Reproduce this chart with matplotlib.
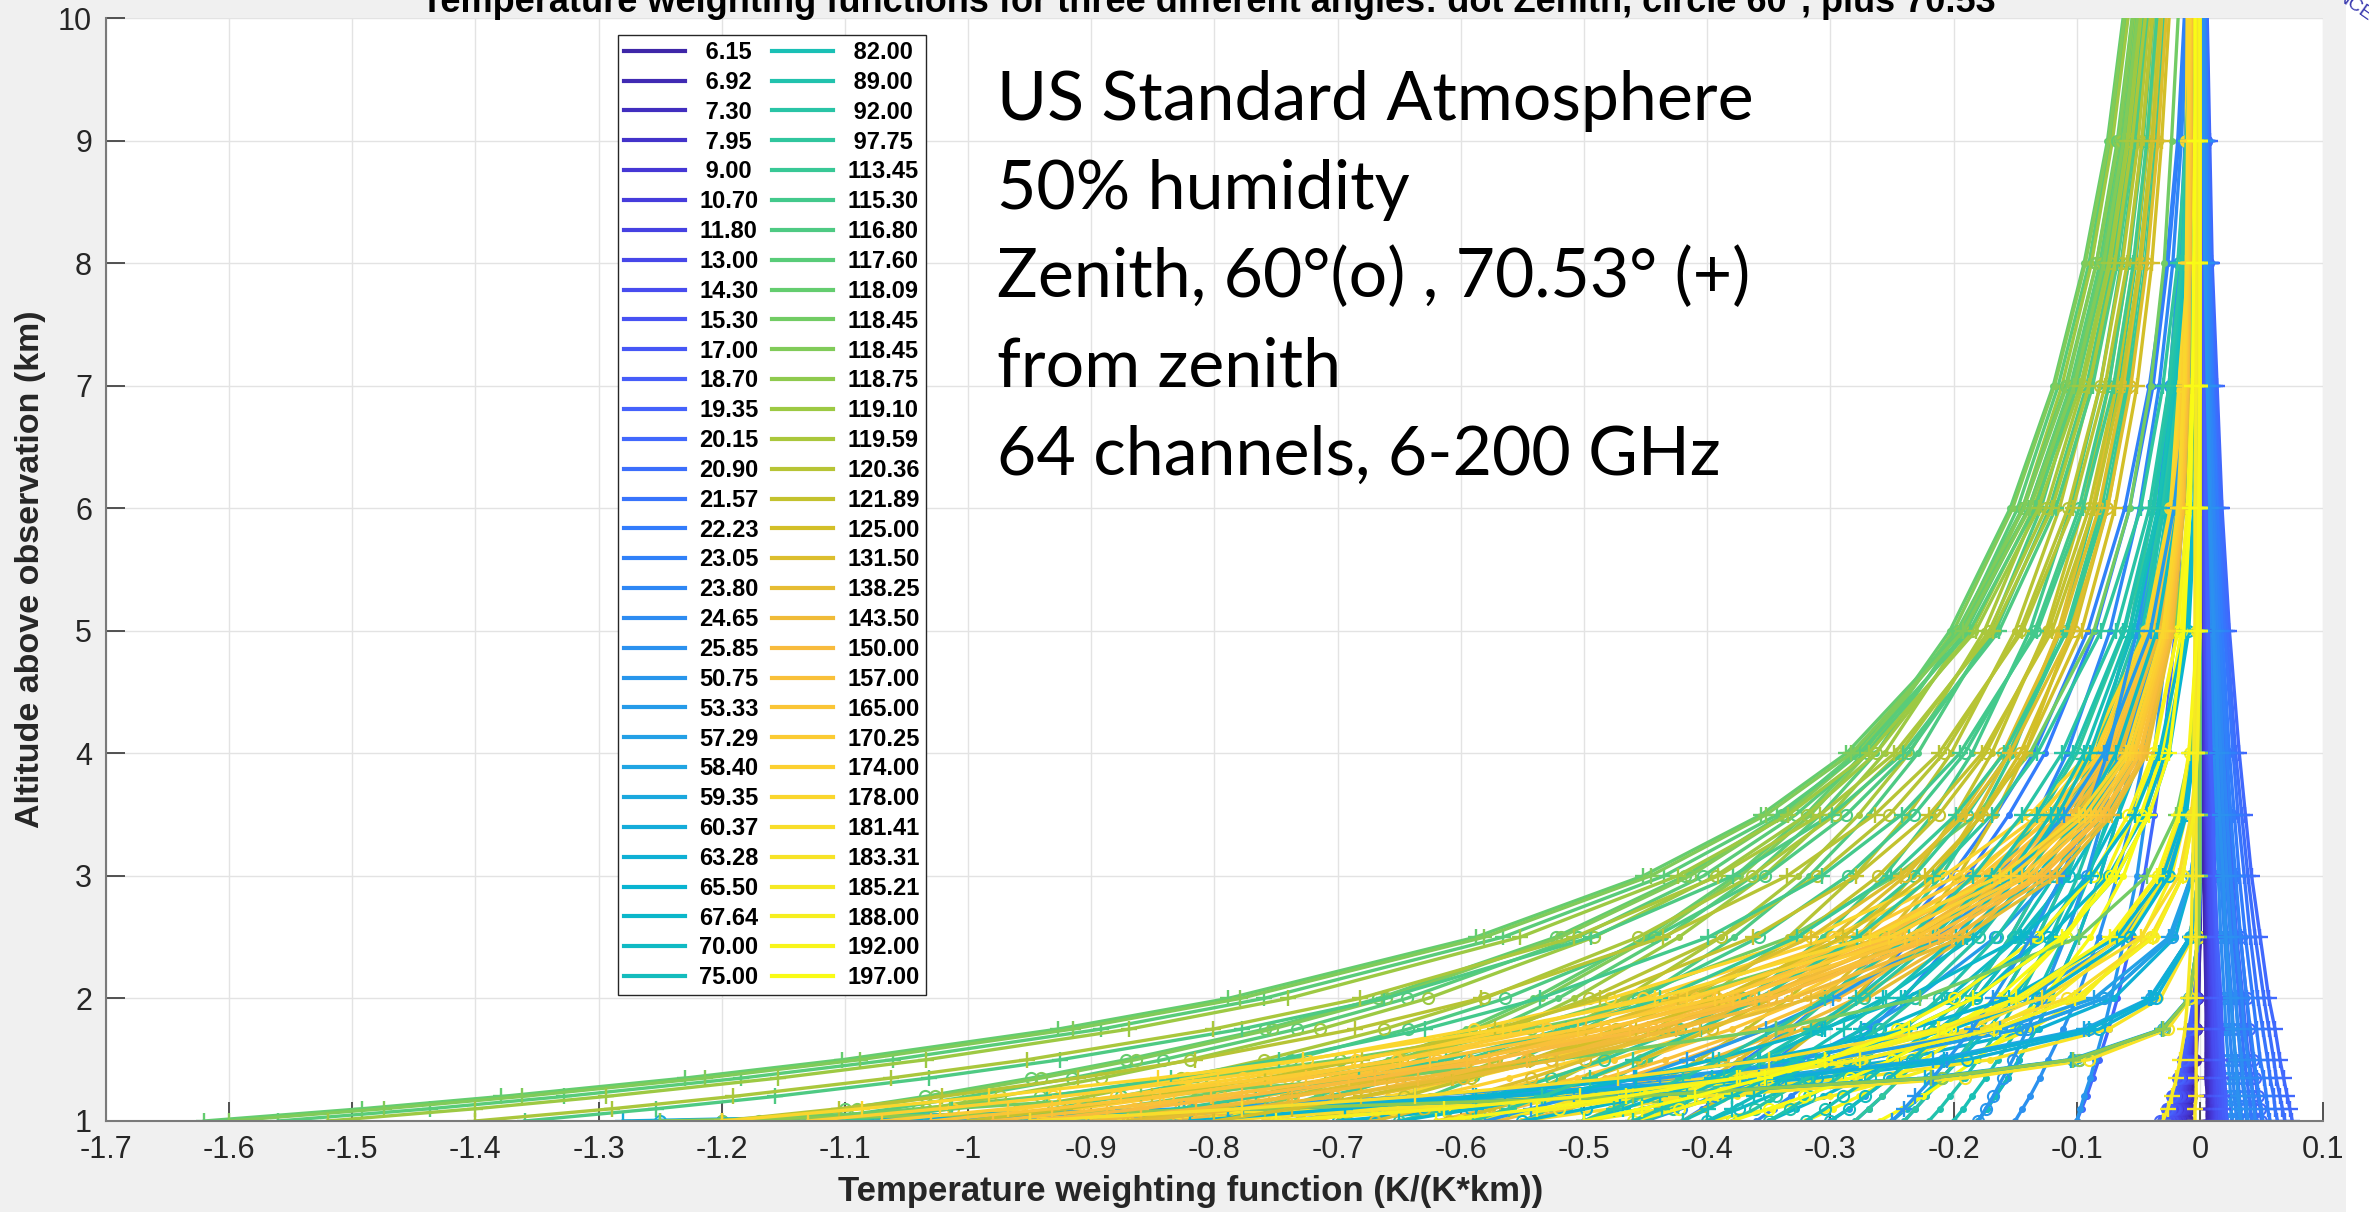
#!/usr/bin/env python3
import matplotlib
matplotlib.use("Agg")
import matplotlib.pyplot as plt
from matplotlib.colors import LinearSegmentedColormap
from matplotlib.lines import Line2D
from matplotlib.patches import Rectangle
from matplotlib.font_manager import FontProperties

# channel frequencies (GHz), legend order
freq_ghz = [6.15, 6.92, 7.30, 7.95, 9.00, 10.70, 11.80, 13.00, 14.30, 15.30, 17.00,
            18.70, 19.35, 20.15, 20.90, 21.57, 22.23, 23.05, 23.80, 24.65, 25.85,
            50.75, 53.33, 57.29, 58.40, 59.35, 60.37, 63.28, 65.50, 67.64, 70.00, 75.00,
            82.00, 89.00, 92.00, 97.75, 113.45, 115.30, 116.80, 117.60, 118.09, 118.45,
            118.45, 118.75, 119.10, 119.59, 120.36, 121.89, 125.00, 131.50, 138.25,
            143.50, 150.00, 157.00, 165.00, 170.25, 174.00, 178.00, 181.41, 183.31,
            185.21, 188.00, 192.00, 197.00]

# altitude levels (km) where the curves were read
altitude_km = [1, 1.1, 1.2, 1.35, 1.5, 1.75, 2, 2.5, 3, 3.5, 4, 5, 6, 7, 8, 9, 10.5]

# temperature weighting function K/(K*km) per channel -- zenith view (dots)
wf_zenith = [
    [-.008, -.007, -.006, -.004, -.003, -.002, -.001, 0, 0, 0, 0, 0, 0, 0, 0, 0, 0],
    [-.009, -.008, -.006, -.005, -.004, -.002, -.001, 0, 0, 0, 0, 0, 0, 0, 0, 0, 0],
    [-.01, -.009, -.007, -.006, -.004, -.003, -.002, 0, 0, 0, .001, .001, 0, 0, 0, 0, 0],
    [-.011, -.009, -.008, -.006, -.005, -.003, -.002, 0, 0, 0, .001, .001, 0, 0, 0, 0, 0],
    [-.012, -.01, -.009, -.007, -.005, -.003, -.002, 0, 0, 0, .001, .001, 0, 0, 0, 0, 0],
    [-.014, -.012, -.01, -.008, -.006, -.004, -.002, -.001, 0, .001, .001, .001, .001, 0, 0, 0, 0],
    [-.015, -.013, -.011, -.008, -.006, -.004, -.002, -.001, 0, .001, .001, .001, .001, 0, 0, 0, 0],
    [-.017, -.014, -.012, -.01, -.007, -.005, -.003, -.001, 0, .001, .001, .001, .001, .001, 0, 0, 0],
    [-.018, -.015, -.013, -.01, -.008, -.005, -.003, -.001, 0, .001, .001, .001, .001, .001, 0, 0, 0],
    [-.02, -.017, -.014, -.011, -.009, -.005, -.003, -.001, 0, .001, .001, .001, .001, .001, 0, 0, 0],
    [-.022, -.019, -.016, -.012, -.009, -.006, -.004, -.001, 0, .001, .001, .001, .001, .001, 0, 0, 0],
    [-.024, -.02, -.017, -.013, -.01, -.006, -.004, -.001, 0, .001, .001, .001, .001, .001, 0, 0, 0],
    [-.026, -.022, -.019, -.015, -.011, -.007, -.004, -.001, .001, .001, .001, .001, .001, .001, .001, 0, 0],
    [-.1, -.096, -.092, -.087, -.082, -.074, -.067, -.055, -.045, -.037, -.03, -.02, -.014, -.009, -.006, -.004, -.002],
    [-.18, -.173, -.166, -.156, -.147, -.133, -.121, -.099, -.081, -.066, -.054, -.036, -.024, -.016, -.011, -.007, -.004],
    [-.28, -.269, -.258, -.243, -.229, -.207, -.188, -.154, -.126, -.103, -.084, -.057, -.038, -.025, -.017, -.011, -.006],
    [-.42, -.404, -.388, -.365, -.344, -.311, -.281, -.231, -.189, -.155, -.126, -.085, -.057, -.038, -.026, -.017, -.009],
    [-.45, -.432, -.415, -.391, -.369, -.333, -.302, -.247, -.202, -.166, -.135, -.091, -.061, -.041, -.027, -.018, -.01],
    [-.36, -.346, -.332, -.313, -.295, -.267, -.241, -.198, -.162, -.132, -.108, -.073, -.049, -.033, -.022, -.015, -.008],
    [-.24, -.231, -.222, -.209, -.197, -.178, -.161, -.132, -.108, -.088, -.072, -.048, -.032, -.022, -.015, -.01, -.005],
    [-.15, -.144, -.138, -.13, -.123, -.111, -.1, -.082, -.067, -.055, -.045, -.03, -.02, -.014, -.009, -.006, -.003],
    [-.1, -.097, -.094, -.089, -.085, -.078, -.072, -.061, -.051, -.044, -.037, -.026, -.019, -.014, -.01, -.007, -.004],
    [-.3, -.285, -.272, -.252, -.234, -.206, -.182, -.142, -.11, -.086, -.067, -.041, -.025, -.015, -.009, -.005, -.003],
    [-.75, -.635, -.538, -.419, -.326, -.215, -.142, -.062, -.027, -.012, -.005, -.001, 0, 0, 0, 0, 0],
    [-.95, -.74, -.577, -.396, -.273, -.146, -.078, -.023, -.007, -.002, 0, 0, 0, 0, 0, 0, 0],
    [-1.1, -.789, -.564, -.342, -.208, -.09, -.04, -.008, -.001, 0, 0, 0, 0, 0, 0, 0, 0],
    [-1.2, -.728, -.442, -.209, -.098, -.029, -.008, -.001, 0, 0, 0, 0, 0, 0, 0, 0, 0],
    [-.85, -.662, -.516, -.354, -.244, -.131, -.07, -.02, -.006, -.002, 0, 0, 0, 0, 0, 0, 0],
    [-.5, -.453, -.41, -.353, -.304, -.236, -.184, -.112, -.068, -.041, -.025, -.009, -.004, -.001, 0, 0, 0],
    [-.35, -.328, -.306, -.277, -.251, -.212, -.18, -.129, -.092, -.066, -.047, -.024, -.013, -.006, -.003, -.002, -.001],
    [-.25, -.238, -.226, -.21, -.195, -.172, -.152, -.118, -.092, -.072, -.056, -.034, -.021, -.013, -.008, -.005, -.002],
    [-.18, -.173, -.166, -.156, -.147, -.133, -.121, -.099, -.081, -.066, -.054, -.036, -.024, -.016, -.011, -.007, -.004],
    [-.2, -.192, -.185, -.174, -.164, -.148, -.134, -.11, -.09, -.074, -.06, -.04, -.027, -.018, -.012, -.008, -.004],
    [-.22, -.211, -.203, -.191, -.18, -.163, -.147, -.121, -.099, -.081, -.066, -.044, -.03, -.02, -.013, -.009, -.005],
    [-.24, -.231, -.222, -.209, -.197, -.178, -.161, -.132, -.108, -.088, -.072, -.048, -.032, -.022, -.015, -.01, -.005],
    [-.28, -.269, -.258, -.243, -.229, -.207, -.188, -.154, -.126, -.103, -.084, -.057, -.038, -.025, -.017, -.011, -.006],
    [-.45, -.431, -.414, -.389, -.366, -.331, -.301, -.25, -.21, -.178, -.152, -.113, -.086, -.066, -.052, -.042, -.031],
    [-.55, -.527, -.505, -.475, -.447, -.405, -.367, -.306, -.256, -.217, -.185, -.138, -.105, -.081, -.064, -.051, -.038],
    [-.68, -.651, -.625, -.588, -.553, -.5, -.454, -.378, -.317, -.269, -.229, -.17, -.129, -.1, -.079, -.063, -.047],
    [-.78, -.747, -.717, -.674, -.634, -.574, -.521, -.434, -.363, -.308, -.263, -.195, -.148, -.115, -.09, -.073, -.054],
    [-.81, -.776, -.744, -.7, -.659, -.596, -.541, -.45, -.377, -.32, -.273, -.203, -.154, -.119, -.094, -.075, -.056],
    [-.95, -.884, -.817, -.732, -.656, -.551, -.466, -.333, -.247, -.181, -.138, -.086, -.057, -.04, -.029, -.023, -.015],
    [-.8, -.766, -.735, -.691, -.65, -.589, -.534, -.445, -.373, -.316, -.27, -.2, -.152, -.118, -.093, -.074, -.055],
    [-1.1, -.789, -.564, -.342, -.208, -.09, -.04, -.008, -.001, 0, 0, 0, 0, 0, 0, 0, 0],
    [-.76, -.728, -.698, -.657, -.618, -.559, -.508, -.423, -.354, -.3, -.256, -.19, -.144, -.112, -.088, -.071, -.052],
    [-.7, -.671, -.643, -.605, -.569, -.515, -.468, -.389, -.326, -.277, -.236, -.175, -.133, -.103, -.081, -.065, -.048],
    [-.6, -.575, -.551, -.518, -.488, -.442, -.401, -.334, -.28, -.237, -.202, -.15, -.114, -.088, -.07, -.056, -.041],
    [-.5, -.479, -.46, -.432, -.407, -.368, -.334, -.278, -.233, -.198, -.169, -.125, -.095, -.074, -.058, -.047, -.035],
    [-.42, -.402, -.386, -.363, -.341, -.309, -.281, -.234, -.196, -.166, -.142, -.105, -.08, -.062, -.049, -.039, -.029],
    [-.46, -.441, -.423, -.397, -.374, -.339, -.307, -.256, -.214, -.182, -.155, -.115, -.087, -.068, -.053, -.043, -.032],
    [-.55, -.512, -.477, -.428, -.385, -.322, -.27, -.189, -.132, -.092, -.064, -.031, -.017, -.011, -.009, -.007, -.006],
    [-.57, -.531, -.494, -.444, -.399, -.333, -.279, -.196, -.137, -.096, -.067, -.032, -.017, -.011, -.009, -.007, -.006],
    [-.6, -.559, -.52, -.467, -.42, -.351, -.294, -.206, -.144, -.101, -.07, -.034, -.018, -.012, -.01, -.008, -.007],
    [-.62, -.577, -.538, -.483, -.434, -.363, -.304, -.213, -.149, -.104, -.073, -.035, -.019, -.012, -.01, -.008, -.007],
    [-.65, -.605, -.564, -.506, -.455, -.38, -.319, -.223, -.156, -.109, -.076, -.037, -.02, -.013, -.01, -.008, -.007],
    [-.68, -.633, -.59, -.53, -.476, -.398, -.333, -.233, -.163, -.114, -.08, -.039, -.02, -.014, -.011, -.009, -.007],
    [-.72, -.67, -.624, -.561, -.504, -.421, -.353, -.247, -.173, -.121, -.084, -.041, -.022, -.014, -.012, -.009, -.008],
    [-.76, -.708, -.659, -.592, -.532, -.445, -.372, -.261, -.182, -.128, -.089, -.043, -.023, -.015, -.012, -.01, -.008],
    [-.55, -.477, -.413, -.334, -.27, -.189, -.132, -.064, -.031, -.015, -.008, -.002, -.001, 0, 0, 0, 0],
    [-.9, -.645, -.462, -.28, -.17, -.074, -.032, -.006, -.001, 0, 0, 0, 0, 0, 0, 0, 0],
    [-.5, -.434, -.376, -.304, -.245, -.172, -.12, -.059, -.029, -.014, -.007, -.002, -.001, 0, 0, 0, 0],
    [-.4, -.347, -.3, -.243, -.196, -.137, -.096, -.047, -.023, -.011, -.006, -.002, -.001, 0, 0, 0, 0],
    [-.32, -.298, -.277, -.249, -.224, -.187, -.157, -.11, -.077, -.054, -.037, -.018, -.01, -.006, -.005, -.004, -.004],
    [-.26, -.242, -.225, -.203, -.182, -.152, -.127, -.089, -.062, -.044, -.03, -.015, -.008, -.005, -.004, -.003, -.003],
]

# 60 deg from zenith (circles)
wf_60deg = [
    [-.01, -.009, -.007, -.006, -.004, -.003, -.002, 0, 0, 0, .001, .001, 0, 0, 0, 0, 0],
    [-.012, -.01, -.009, -.007, -.005, -.003, -.002, 0, 0, 0, .001, .001, 0, 0, 0, 0, 0],
    [-.013, -.011, -.009, -.007, -.006, -.004, -.002, -.001, 0, .001, .001, .001, .001, 0, 0, 0, 0],
    [-.014, -.012, -.01, -.008, -.006, -.004, -.002, -.001, 0, .001, .001, .001, .001, 0, 0, 0, 0],
    [-.016, -.014, -.012, -.009, -.007, -.004, -.003, -.001, 0, .001, .001, .001, .001, 0, 0, 0, 0],
    [-.018, -.015, -.013, -.01, -.008, -.005, -.003, -.001, 0, .001, .001, .001, .001, .001, 0, 0, 0],
    [-.02, -.017, -.014, -.011, -.009, -.005, -.003, -.001, 0, .001, .001, .001, .001, .001, 0, 0, 0],
    [-.022, -.019, -.016, -.012, -.009, -.006, -.004, -.001, 0, .001, .001, .001, .001, .001, 0, 0, 0],
    [-.023, -.02, -.017, -.013, -.01, -.006, -.004, -.001, 0, .001, .001, .001, .001, .001, 0, 0, 0],
    [-.025, -.021, -.018, -.014, -.011, -.007, -.004, -.001, .001, .001, .001, .001, .001, .001, .001, 0, 0],
    [-.028, -.024, -.02, -.016, -.012, -.008, -.004, -.001, .001, .001, .001, .001, .001, .001, .001, 0, 0],
    [-.03, -.026, -.022, -.017, -.013, -.008, -.005, -.001, .001, .001, .002, .002, .001, .001, .001, 0, 0],
    [-.032, -.027, -.023, -.018, -.014, -.009, -.005, -.001, .001, .001, .002, .002, .001, .001, .001, 0, 0],
    [.05, .049, .047, .045, .043, .04, .038, .033, .028, .025, .021, .016, .012, .009, .007, .005, .003],
    [.046, .045, .043, .042, .04, .037, .035, .03, .026, .023, .02, .015, .011, .008, .006, .005, .003],
    [.042, .041, .04, .038, .036, .034, .032, .027, .024, .021, .018, .013, .01, .008, .006, .004, .003],
    [.038, .037, .036, .034, .033, .031, .029, .025, .021, .019, .016, .012, .009, .007, .005, .004, .003],
    [.034, .033, .032, .031, .029, .027, .026, .022, .019, .017, .014, .011, .008, .006, .005, .003, .002],
    [.03, .029, .028, .027, .026, .024, .023, .02, .017, .015, .013, .01, .007, .005, .004, .003, .002],
    [.026, .025, .025, .024, .023, .021, .02, .017, .015, .013, .011, .008, .006, .005, .004, .003, .002],
    [.022, .021, .021, .02, .019, .018, .017, .014, .012, .011, .009, .007, .005, .004, .003, .002, .001],
    [-.18, -.174, -.168, -.16, -.152, -.14, -.129, -.109, -.092, -.078, -.066, -.048, -.034, -.024, -.017, -.012, -.008],
    [-.45, -.421, -.394, -.356, -.323, -.273, -.231, -.166, -.119, -.085, -.061, -.031, -.016, -.008, -.004, -.002, -.001],
    [-.95, -.74, -.577, -.396, -.273, -.146, -.078, -.023, -.007, -.002, 0, 0, 0, 0, 0, 0, 0],
    [-1.1, -.789, -.564, -.342, -.208, -.09, -.04, -.008, -.001, 0, 0, 0, 0, 0, 0, 0, 0],
    [-1.2, -.728, -.442, -.209, -.098, -.029, -.008, -.001, 0, 0, 0, 0, 0, 0, 0, 0, 0],
    [-1.25, -.759, -.46, -.218, -.103, -.03, -.009, -.001, 0, 0, 0, 0, 0, 0, 0, 0, 0],
    [-1.0, -.717, -.513, -.311, -.189, -.082, -.036, -.007, -.001, 0, 0, 0, 0, 0, 0, 0, 0],
    [-.7, -.592, -.502, -.391, -.305, -.201, -.132, -.057, -.025, -.011, -.005, -.001, 0, 0, 0, 0, 0],
    [-.55, -.498, -.45, -.388, -.334, -.26, -.202, -.123, -.074, -.045, -.028, -.01, -.004, -.001, -.001, 0, 0],
    [-.4, -.374, -.35, -.317, -.287, -.243, -.205, -.147, -.106, -.076, -.054, -.028, -.014, -.007, -.004, -.002, -.001],
    [-.3, -.285, -.272, -.252, -.234, -.206, -.182, -.142, -.11, -.086, -.067, -.041, -.025, -.015, -.009, -.005, -.003],
    [-.32, -.304, -.29, -.268, -.249, -.22, -.194, -.151, -.118, -.092, -.071, -.043, -.026, -.016, -.01, -.006, -.003],
    [-.35, -.333, -.317, -.294, -.273, -.24, -.212, -.165, -.129, -.1, -.078, -.047, -.029, -.018, -.011, -.006, -.003],
    [-.38, -.361, -.344, -.319, -.296, -.261, -.231, -.179, -.14, -.109, -.085, -.051, -.031, -.019, -.011, -.007, -.003],
    [-.45, -.428, -.407, -.378, -.351, -.309, -.273, -.212, -.166, -.129, -.1, -.061, -.037, -.023, -.014, -.008, -.004],
    [-.65, -.611, -.575, -.527, -.484, -.422, -.371, -.291, -.232, -.189, -.155, -.109, -.08, -.06, -.047, -.037, -.027],
    [-.8, -.752, -.708, -.649, -.596, -.519, -.456, -.358, -.286, -.232, -.191, -.134, -.098, -.074, -.058, -.046, -.034],
    [-.99, -.931, -.876, -.803, -.738, -.643, -.564, -.443, -.353, -.287, -.237, -.166, -.122, -.092, -.071, -.056, -.042],
    [-1.13, -1.062, -1.0, -.916, -.842, -.733, -.644, -.505, -.403, -.328, -.27, -.19, -.139, -.105, -.081, -.064, -.047],
    [-1.17, -1.1, -1.035, -.949, -.872, -.759, -.667, -.523, -.418, -.339, -.28, -.197, -.144, -.109, -.084, -.067, -.049],
    [-1.15, -1.041, -.942, -.811, -.698, -.543, -.423, -.256, -.155, -.094, -.058, -.021, -.008, -.002, -.001, 0, 0],
    [-1.16, -1.09, -1.027, -.941, -.864, -.753, -.661, -.519, -.414, -.336, -.277, -.195, -.143, -.108, -.084, -.066, -.049],
    [-1.2, -.728, -.442, -.209, -.098, -.029, -.008, -.001, 0, 0, 0, 0, 0, 0, 0, 0, 0],
    [-1.1, -1.034, -.974, -.892, -.82, -.714, -.627, -.492, -.393, -.319, -.263, -.185, -.135, -.102, -.079, -.063, -.046],
    [-1.02, -.959, -.903, -.827, -.76, -.662, -.581, -.456, -.364, -.296, -.244, -.171, -.125, -.095, -.073, -.058, -.043],
    [-.87, -.818, -.77, -.706, -.648, -.565, -.496, -.389, -.311, -.252, -.208, -.146, -.107, -.081, -.063, -.05, -.037],
    [-.73, -.686, -.646, -.592, -.544, -.474, -.416, -.326, -.261, -.212, -.174, -.123, -.09, -.068, -.053, -.042, -.031],
    [-.61, -.573, -.54, -.495, -.454, -.396, -.348, -.273, -.218, -.177, -.146, -.102, -.075, -.057, -.044, -.035, -.026],
    [-.67, -.63, -.593, -.543, -.499, -.435, -.382, -.299, -.239, -.194, -.16, -.113, -.082, -.062, -.048, -.038, -.028],
    [-.8, -.736, -.677, -.598, -.527, -.428, -.348, -.23, -.151, -.1, -.066, -.032, -.018, -.012, -.01, -.008, -.007],
    [-.83, -.764, -.702, -.62, -.547, -.444, -.361, -.238, -.157, -.104, -.068, -.033, -.018, -.012, -.01, -.008, -.007],
    [-.87, -.8, -.736, -.65, -.573, -.465, -.378, -.25, -.164, -.109, -.071, -.035, -.019, -.013, -.01, -.009, -.008],
    [-.9, -.828, -.761, -.672, -.593, -.482, -.392, -.258, -.17, -.113, -.074, -.036, -.02, -.014, -.011, -.009, -.008],
    [-.94, -.865, -.795, -.702, -.619, -.503, -.409, -.27, -.178, -.118, -.077, -.038, -.021, -.014, -.011, -.009, -.008],
    [-.99, -.911, -.838, -.74, -.652, -.53, -.431, -.284, -.187, -.124, -.081, -.04, -.022, -.015, -.012, -.01, -.009],
    [-1.04, -.957, -.88, -.777, -.685, -.556, -.452, -.298, -.197, -.13, -.085, -.042, -.023, -.016, -.012, -.01, -.009],
    [-1.1, -1.012, -.931, -.822, -.725, -.589, -.479, -.316, -.208, -.138, -.09, -.044, -.024, -.017, -.013, -.011, -.01],
    [-.8, -.655, -.536, -.398, -.294, -.178, -.108, -.04, -.014, -.006, -.002, 0, 0, 0, 0, 0, 0],
    [-1.1, -.668, -.405, -.191, -.09, -.026, -.008, -.001, 0, 0, 0, 0, 0, 0, 0, 0, 0],
    [-.75, -.614, -.503, -.373, -.276, -.167, -.101, -.038, -.014, -.005, -.002, 0, 0, 0, 0, 0, 0],
    [-.6, -.52, -.451, -.364, -.294, -.206, -.144, -.07, -.034, -.017, -.008, -.002, -.001, 0, 0, 0, 0],
    [-.46, -.423, -.389, -.344, -.303, -.246, -.2, -.132, -.087, -.058, -.038, -.018, -.01, -.007, -.006, -.005, -.004],
    [-.38, -.35, -.321, -.284, -.25, -.203, -.165, -.109, -.072, -.048, -.031, -.015, -.008, -.006, -.005, -.004, -.003],
]

# 70.53 deg from zenith (plus)
wf_70deg = [
    [.006, .006, .006, .005, .005, .005, .005, .004, .003, .003, .003, .002, .001, .001, .001, .001, 0],
    [.007, .007, .007, .006, .006, .006, .005, .005, .004, .003, .003, .002, .002, .001, .001, .001, 0],
    [.008, .008, .008, .007, .007, .006, .006, .005, .005, .004, .003, .003, .002, .001, .001, .001, .001],
    [.009, .009, .009, .008, .008, .007, .007, .006, .005, .004, .004, .003, .002, .002, .001, .001, .001],
    [.01, .01, .009, .009, .009, .008, .008, .007, .006, .005, .004, .003, .002, .002, .001, .001, .001],
    [.011, .011, .01, .01, .01, .009, .008, .007, .006, .005, .005, .004, .003, .002, .001, .001, .001],
    [.012, .012, .011, .011, .01, .01, .009, .008, .007, .006, .005, .004, .003, .002, .002, .001, .001],
    [.013, .013, .012, .012, .011, .01, .01, .008, .007, .006, .006, .004, .003, .002, .002, .001, .001],
    [.014, .014, .013, .013, .012, .011, .011, .009, .008, .007, .006, .004, .003, .003, .002, .001, .001],
    [.016, .016, .015, .014, .014, .013, .012, .01, .009, .008, .007, .005, .004, .003, .002, .002, .001],
    [.018, .017, .017, .016, .016, .015, .014, .012, .01, .009, .008, .006, .004, .003, .002, .002, .001],
    [.02, .019, .019, .018, .017, .016, .015, .013, .011, .01, .008, .006, .005, .004, .003, .002, .001],
    [.022, .021, .021, .02, .019, .018, .017, .014, .012, .011, .009, .007, .005, .004, .003, .002, .001],
    [.075, .073, .071, .068, .065, .061, .056, .049, .042, .037, .032, .024, .018, .014, .01, .008, .005],
    [.069, .067, .065, .062, .06, .056, .052, .045, .039, .034, .029, .022, .017, .012, .009, .007, .005],
    [.063, .061, .06, .057, .055, .051, .047, .041, .036, .031, .027, .02, .015, .011, .009, .006, .004],
    [.057, .055, .054, .052, .049, .046, .043, .037, .032, .028, .024, .018, .014, .01, .008, .006, .004],
    [.051, .05, .048, .046, .044, .041, .038, .033, .029, .025, .022, .016, .012, .009, .007, .005, .003],
    [.045, .044, .043, .041, .039, .036, .034, .029, .025, .022, .019, .014, .011, .008, .006, .005, .003],
    [.039, .038, .037, .035, .034, .031, .029, .025, .022, .019, .017, .012, .009, .007, .005, .004, .003],
    [.033, .032, .031, .03, .029, .027, .025, .021, .019, .016, .014, .011, .008, .006, .004, .003, .002],
    [-.25, -.24, -.231, -.217, -.205, -.185, -.168, -.137, -.112, -.092, -.075, -.051, -.034, -.023, -.015, -.01, -.006],
    [-.58, -.543, -.508, -.459, -.416, -.352, -.298, -.213, -.153, -.11, -.078, -.04, -.021, -.01, -.005, -.003, -.001],
    [-1.05, -.818, -.637, -.438, -.301, -.162, -.086, -.025, -.007, -.002, 0, 0, 0, 0, 0, 0, 0],
    [-1.15, -.825, -.59, -.358, -.217, -.094, -.041, -.008, -.001, 0, 0, 0, 0, 0, 0, 0, 0],
    [-1.25, -.759, -.46, -.218, -.103, -.03, -.009, -.001, 0, 0, 0, 0, 0, 0, 0, 0, 0],
    [-1.28, -.777, -.471, -.223, -.105, -.031, -.009, -.001, 0, 0, 0, 0, 0, 0, 0, 0, 0],
    [-1.1, -.789, -.564, -.342, -.208, -.09, -.04, -.008, -.001, 0, 0, 0, 0, 0, 0, 0, 0],
    [-.82, -.694, -.588, -.458, -.357, -.235, -.155, -.067, -.03, -.013, -.006, -.001, 0, 0, 0, 0, 0],
    [-.65, -.588, -.532, -.458, -.395, -.307, -.239, -.145, -.088, -.053, -.033, -.012, -.005, -.001, -.001, 0, 0],
    [-.5, -.468, -.438, -.396, -.359, -.304, -.257, -.184, -.132, -.095, -.068, -.035, -.018, -.009, -.005, -.003, -.001],
    [-.4, -.38, -.362, -.336, -.312, -.275, -.243, -.189, -.147, -.115, -.089, -.054, -.033, -.02, -.012, -.007, -.004],
    [-.42, -.399, -.38, -.352, -.327, -.289, -.255, -.198, -.155, -.121, -.094, -.057, -.034, -.021, -.013, -.008, -.004],
    [-.46, -.437, -.416, -.386, -.358, -.316, -.279, -.217, -.169, -.132, -.103, -.062, -.038, -.023, -.014, -.008, -.004],
    [-.5, -.476, -.453, -.42, -.39, -.344, -.304, -.236, -.184, -.144, -.112, -.068, -.041, -.025, -.015, -.009, -.005],
    [-.59, -.561, -.534, -.495, -.46, -.405, -.358, -.278, -.217, -.169, -.132, -.08, -.048, -.03, -.018, -.011, -.005],
    [-.9, -.829, -.766, -.683, -.612, -.515, -.438, -.327, -.251, -.198, -.159, -.108, -.077, -.058, -.044, -.035, -.025],
    [-1.1, -1.013, -.936, -.835, -.748, -.629, -.536, -.399, -.307, -.242, -.195, -.132, -.095, -.07, -.054, -.043, -.031],
    [-1.36, -1.253, -1.157, -1.032, -.925, -.778, -.662, -.494, -.379, -.299, -.241, -.163, -.117, -.087, -.067, -.053, -.038],
    [-1.56, -1.437, -1.328, -1.184, -1.061, -.892, -.76, -.566, -.435, -.343, -.276, -.187, -.134, -.1, -.076, -.061, -.044],
    [-1.62, -1.492, -1.379, -1.23, -1.102, -.927, -.789, -.588, -.452, -.356, -.287, -.194, -.139, -.104, -.079, -.063, -.045],
    [-1.2, -1.015, -.86, -.67, -.522, -.344, -.227, -.098, -.043, -.019, -.008, -.001, 0, 0, 0, 0, 0],
    [-1.6, -1.474, -1.362, -1.214, -1.088, -.915, -.779, -.581, -.446, -.352, -.283, -.192, -.138, -.102, -.078, -.062, -.045],
    [-1.25, -.759, -.46, -.218, -.103, -.03, -.009, -.001, 0, 0, 0, 0, 0, 0, 0, 0, 0],
    [-1.52, -1.4, -1.294, -1.154, -1.034, -.869, -.74, -.552, -.424, -.334, -.269, -.182, -.131, -.097, -.074, -.059, -.043],
    [-1.4, -1.289, -1.191, -1.063, -.952, -.801, -.682, -.508, -.391, -.308, -.248, -.168, -.12, -.09, -.069, -.055, -.039],
    [-1.2, -1.105, -1.021, -.911, -.816, -.686, -.584, -.436, -.335, -.264, -.212, -.144, -.103, -.077, -.059, -.047, -.034],
    [-1.0, -.921, -.851, -.759, -.68, -.572, -.487, -.363, -.279, -.22, -.177, -.12, -.086, -.064, -.049, -.039, -.028],
    [-.8, -.737, -.681, -.607, -.544, -.458, -.39, -.29, -.223, -.176, -.142, -.096, -.069, -.051, -.039, -.031, -.022],
    [-.87, -.801, -.74, -.66, -.592, -.498, -.424, -.316, -.243, -.191, -.154, -.104, -.075, -.056, -.043, -.034, -.024],
    [-.86, -.778, -.704, -.606, -.522, -.406, -.316, -.192, -.116, -.071, -.043, -.022, -.013, -.009, -.008, -.007, -.006],
    [-.9, -.815, -.737, -.635, -.546, -.425, -.331, -.201, -.122, -.074, -.045, -.023, -.014, -.01, -.008, -.007, -.006],
    [-.95, -.86, -.778, -.67, -.577, -.448, -.35, -.212, -.128, -.078, -.048, -.024, -.014, -.01, -.009, -.008, -.007],
    [-.98, -.887, -.803, -.691, -.595, -.463, -.361, -.219, -.132, -.08, -.049, -.025, -.015, -.011, -.009, -.008, -.007],
    [-1.03, -.932, -.844, -.726, -.625, -.486, -.379, -.23, -.139, -.084, -.052, -.026, -.015, -.011, -.009, -.008, -.007],
    [-1.07, -.968, -.876, -.754, -.649, -.505, -.394, -.239, -.144, -.088, -.054, -.027, -.016, -.012, -.01, -.009, -.007],
    [-1.13, -1.023, -.925, -.797, -.686, -.533, -.416, -.252, -.153, -.093, -.057, -.028, -.017, -.012, -.01, -.009, -.008],
    [-1.2, -1.086, -.983, -.846, -.728, -.566, -.442, -.268, -.162, -.098, -.06, -.03, -.018, -.013, -.011, -.01, -.008],
    [-.95, -.778, -.637, -.472, -.35, -.212, -.128, -.048, -.017, -.007, -.002, 0, 0, 0, 0, 0, 0],
    [-.004, -.004, -.003, -.003, -.003, -.003, -.003, -.003, -.003, -.003, -.003, -.003, -.003, -.003, -.003, -.003, -.003],
    [-.03, -.026, -.023, -.019, -.016, -.012, -.01, -.007, -.006, -.005, -.005, -.004, -.004, -.003, -.003, -.003, -.003],
    [-.75, -.614, -.503, -.373, -.276, -.167, -.101, -.038, -.014, -.005, -.002, 0, 0, 0, 0, 0, 0],
    [-.62, -.538, -.466, -.376, -.304, -.213, -.149, -.073, -.035, -.017, -.009, -.002, -.001, 0, 0, 0, 0],
    [-.5, -.453, -.41, -.353, -.304, -.236, -.184, -.112, -.068, -.041, -.025, -.013, -.008, -.006, -.005, -.004, -.004],
]

x_ticks = [-1.7, -1.6, -1.5, -1.4, -1.3, -1.2, -1.1, -1.0, -0.9, -0.8, -0.7,
           -0.6, -0.5, -0.4, -0.3, -0.2, -0.1, 0.0, 0.1]
x_ticklabels = ["-1.7", "-1.6", "-1.5", "-1.4", "-1.3", "-1.2", "-1.1", "-1", "-0.9",
                "-0.8", "-0.7", "-0.6", "-0.5", "-0.4", "-0.3", "-0.2", "-0.1", "0", "0.1"]
y_ticks = [1, 2, 3, 4, 5, 6, 7, 8, 9, 10]

note_lines = ["US Standard Atmosphere", "50% humidity", "Zenith, 60°(o) , 70.53° (+)",
              "from zenith", "64 channels, 6-200 GHz"]
title = "Temperature weighting functions for three different angles: dot Zenith, circle 60°, plus 70.53"

# matlab parula, every 4th entry
parula_pts = [(0.2422, 0.1504, 0.6603), (0.2706, 0.2147, 0.8364), (0.2813, 0.3006, 0.9414),
              (0.2699, 0.3892, 0.9906), (0.1963, 0.4847, 0.9892), (0.1687, 0.5703, 0.9359),
              (0.1248, 0.6459, 0.8883), (0.0297, 0.7082, 0.8163), (0.0964, 0.7500, 0.7120),
              (0.2161, 0.7843, 0.5923), (0.3909, 0.8029, 0.4354), (0.6174, 0.7876, 0.2612),
              (0.8203, 0.7498, 0.1535), (0.9728, 0.7298, 0.2394), (0.9892, 0.8136, 0.1885),
              (0.9597, 0.9135, 0.1423), (0.9769, 0.9839, 0.0805)]
pos = [k * 4 / 63 for k in range(16)] + [1.0]
parula = LinearSegmentedColormap.from_list("parula", list(zip(pos, parula_pts)))
n = len(freq_ghz)
colors = [parula(i / (n - 1)) for i in range(n)]

plt.rcParams['font.family'] = ['Liberation Sans', 'DejaVu Sans']

fig = plt.figure(figsize=(23.69, 12.12), dpi=100, facecolor="#f0f0f0")
ax = fig.add_axes([0.0447, 0.0751, 0.9359, 0.9099])
ax.set_facecolor("white")

styles = [(wf_zenith, dict(marker=".", ms=8)),
          (wf_60deg, dict(marker="o", ms=8, mfc="none", mew=1.5)),
          (wf_70deg, dict(marker="+", ms=11, mew=1.7))]
for rows, st in styles:
    for i, row in enumerate(rows):
        ax.plot(row, altitude_km, color=colors[i], lw=2.4, **st)

ax.set_xlim(-1.7, 0.1)
ax.set_ylim(1, 10)
ax.set_xticks(x_ticks)
ax.set_xticklabels(x_ticklabels)
ax.set_yticks(y_ticks)
ax.grid(True, color="#e3e3e3", lw=1.0)
ax.set_axisbelow(True)
for s in ("top", "right"):
    ax.spines[s].set_visible(False)
for s in ("left", "bottom"):
    ax.spines[s].set_color("#7a7a7a")
    ax.spines[s].set_linewidth(1.5)
ax.tick_params(direction="in", length=14, width=1.3, color="#444444",
               labelcolor="#262626", labelsize=22, pad=10)

ax.set_xlabel("Temperature weighting function (K/(K*km))", fontsize=25,
              fontweight="bold", color="#262626")
ax.xaxis.set_label_coords(0.4894, -0.049)
ax.set_ylabel("Altitude above observation (km)", fontsize=24.5,
              fontweight="bold", color="#262626")
ax.yaxis.set_label_coords(-0.027, 0.5)

# legend, numbers centred as in matlab
handles = [Line2D([], [], color=c, lw=3) for c in colors]
labels = []
for i, f in enumerate(freq_ghz):
    s = f"{f:.2f}"
    if (i < 32 and len(s) < 5) or (i >= 32 and len(s) < 6):
        s = " " + s
    labels.append(s)
leg = ax.legend(handles, labels, ncol=2, loc="upper left", bbox_to_anchor=(0.2309, 0.9846),
                prop=FontProperties(family="Liberation Sans", weight="bold", size=17),
                handlelength=2.6, handletextpad=0.6, columnspacing=0.55, labelspacing=0.29,
                borderpad=0.25, borderaxespad=0, fancybox=False, framealpha=1,
                edgecolor="#262626")
leg.get_frame().set_linewidth(1.0)

for k, line in enumerate(note_lines):
    fig.text(0.421, 0.901 - k * 0.0732, line, fontsize=49, family="Lato",
             va="baseline", ha="left", color="black")

fig.text(0.510, 0.990, title, fontsize=26, fontweight="bold", ha="center",
         va="baseline", color="black")

# white strip at the right edge of the screenshot
fig.patches.append(Rectangle((0.9905, 0), 0.0095, 1, transform=fig.transFigure,
                             facecolor="white", edgecolor="none", zorder=5))
fig.text(0.996, 0.992, "NCES", fontsize=14, color="#3a3ab0", rotation=-35,
         ha="center", va="center", zorder=6)

fig.savefig("out.png", dpi=100, facecolor=fig.get_facecolor())
